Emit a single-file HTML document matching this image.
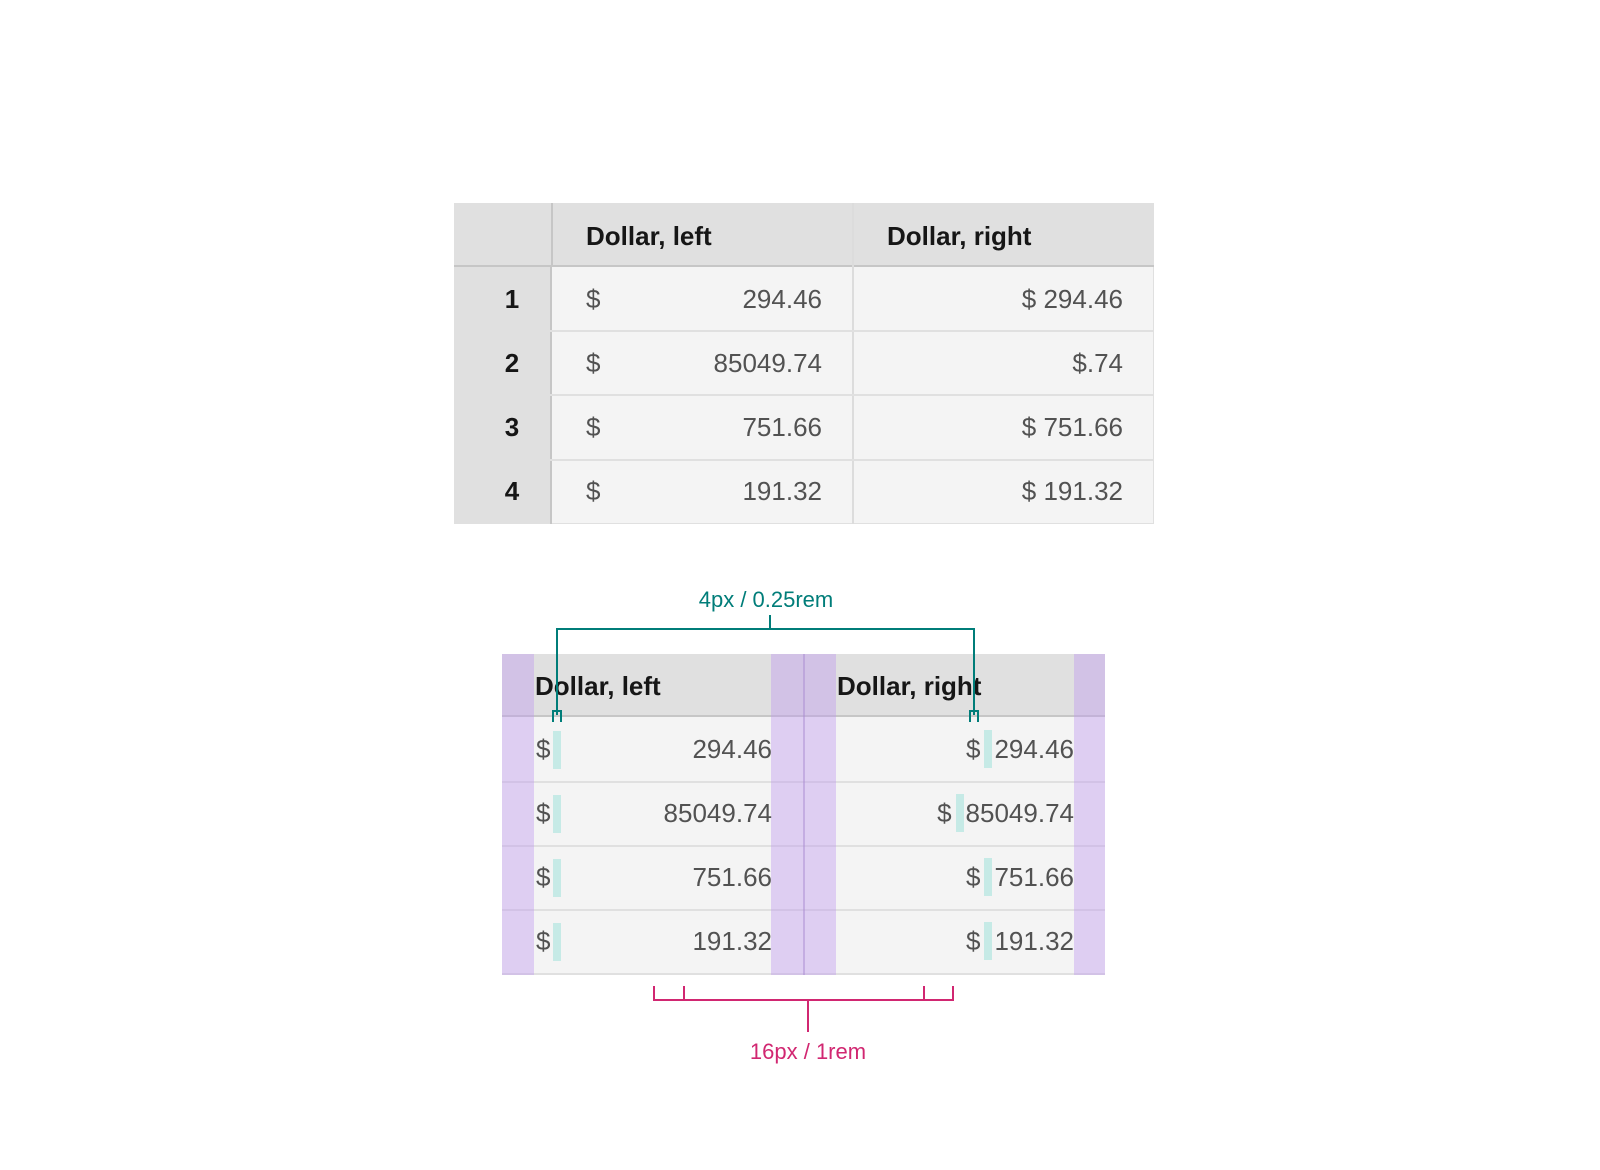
<!DOCTYPE html>
<html><head><meta charset="utf-8"><style>
body{margin:0;width:1600px;height:1170px;background:#fff;position:relative;overflow:hidden;font-family:"Liberation Sans",sans-serif}
div,span{position:absolute;box-sizing:border-box}
.hd{background:#e0e0e0}
.bd{background:#f4f4f4}
.t{font-size:26px;line-height:30px;color:#525252;white-space:nowrap}
.b{font-weight:bold;color:#161616}
.r{text-align:right}
</style></head><body>
<!-- top table -->
<div style="left:454px;top:203px;width:700px;height:321px;background:#f4f4f4;border:1px solid #e0e0e0">
</div>
<div class="hd" style="left:454px;top:203px;width:700px;height:64px;border-bottom:2px solid #c6c6c6"></div>
<div class="hd" style="left:454px;top:267px;width:98px;height:257px;border-right:2px solid #c6c6c6"></div>
<div style="left:551px;top:203px;width:2px;height:64px;background:#c6c6c6"></div>
<div style="left:852px;top:203px;width:2px;height:321px;background:#dcdcdc"></div>
<div style="left:454px;top:330px;width:700px;height:2px;background:#e0e0e0"></div>
<div style="left:454px;top:394px;width:700px;height:2px;background:#e0e0e0"></div>
<div style="left:454px;top:459px;width:700px;height:2px;background:#e0e0e0"></div>
<span class="t b" style="left:586px;top:221px">Dollar, left</span>
<span class="t b" style="left:887px;top:221px">Dollar, right</span>
<div id="toprows" style="left:0;top:0;width:1600px;height:1170px"></div>

<!-- bottom table -->
<div class="bd" style="left:502px;top:654px;width:603px;height:321px;border-bottom:2px solid #e0e0e0"></div>
<div class="hd" style="left:502px;top:654px;width:603px;height:63px;border-bottom:2px solid #c6c6c6"></div>
<div style="left:502px;top:781px;width:603px;height:2px;background:#e0e0e0"></div>
<div style="left:502px;top:845px;width:603px;height:2px;background:#e0e0e0"></div>
<div style="left:502px;top:909px;width:603px;height:2px;background:#e0e0e0"></div>
<div style="left:502px;top:654px;width:32px;height:321px;background:rgba(190,150,240,.4)"></div>
<div style="left:771px;top:654px;width:32px;height:321px;background:rgba(190,150,240,.4)"></div>
<div style="left:803px;top:654px;width:33px;height:321px;background:rgba(190,150,240,.4);border-left:2px solid rgba(170,140,210,.5)"></div>
<div style="left:1074px;top:654px;width:31px;height:321px;background:rgba(190,150,240,.4)"></div>
<span class="t b" style="left:535px;top:671px">Dollar, left</span>
<span class="t b" style="left:837px;top:671px">Dollar, right</span>
<div id="botrows" style="left:0;top:0;width:1600px;height:1170px"></div>

<!-- annotations -->
<svg width="1600" height="1170" style="position:absolute;left:0;top:0">
<g stroke="#007d79" stroke-width="2" fill="none">
<path d="M557 715 V629 H974 V715"/>
<path d="M770 615 V629"/>
<path d="M553 722 V711 H561 V722"/>
<path d="M970 722 V711 H978 V722"/>
</g>
<g stroke="#d12771" stroke-width="2" fill="none">
<path d="M654 986 V1000 H953 V986"/>
<path d="M684 986 V1000 M924 986 V1000"/>
<path d="M808 1000 V1032"/>
</g>
<text x="766" y="607" text-anchor="middle" font-family="Liberation Sans" font-size="22" fill="#007d79">4px / 0.25rem</text>
<text x="808" y="1059" text-anchor="middle" font-family="Liberation Sans" font-size="22" fill="#d12771">16px / 1rem</text>
</svg>
<script>
const rowNums=["1","2","3","4"];
const leftVals=["294.46","85049.74","751.66","191.32"];
const rightVals=["$ 294.46","$.74","$ 751.66","$ 191.32"];
const botRight=["294.46","85049.74","751.66","191.32"];
const top0=267,rh=64,b0=717;
const tr=document.getElementById('toprows');
rowNums.forEach((n,i)=>{
  const y=top0+i*rh+17;
  let s=document.createElement('span');s.className='t b';s.style.cssText=`left:454px;width:116px;text-align:center;top:${y}px`;s.textContent=n;
  
  tr.appendChild(s);
  s=document.createElement('span');s.className='t';s.style.cssText=`left:586px;top:${y}px`;s.textContent='$';
  
  tr.appendChild(s);
  s=document.createElement('span');s.className='t r';s.style.cssText=`left:600px;width:222px;top:${y}px`;s.textContent=leftVals[i];
  
  tr.appendChild(s);
  s=document.createElement('span');s.className='t r';s.style.cssText=`left:870px;width:253px;top:${y}px`;s.textContent=rightVals[i];
  
  tr.appendChild(s);
});
const br=document.getElementById('botrows');
leftVals.forEach((v,i)=>{
  const y=b0+i*rh+17;
  let s=document.createElement('span');s.className='t';s.style.cssText=`left:536px;top:${y}px`;s.textContent='$';
  
  br.appendChild(s);
  let h=document.createElement('div');h.style.cssText=`left:553px;top:${y-3}px;width:8px;height:38px;background:#c6eae6`;
  
  br.appendChild(h);
  s=document.createElement('span');s.className='t r';s.style.cssText=`left:560px;width:212px;top:${y}px`;s.textContent=v;
  
  br.appendChild(s);
  const txt=botRight[i];
  s=document.createElement('span');s.className='t';s.style.cssText=`left:836px;width:238px;top:${y-4}px;height:38px;display:flex;align-items:center;justify-content:flex-end`;
  
  
  s.innerHTML=`$<i style="display:inline-block;width:8px;height:38px;background:#c6eae6;margin:0 2px 0 4px"></i>${txt}`;
  br.appendChild(s);
});
</script>
</body></html>
